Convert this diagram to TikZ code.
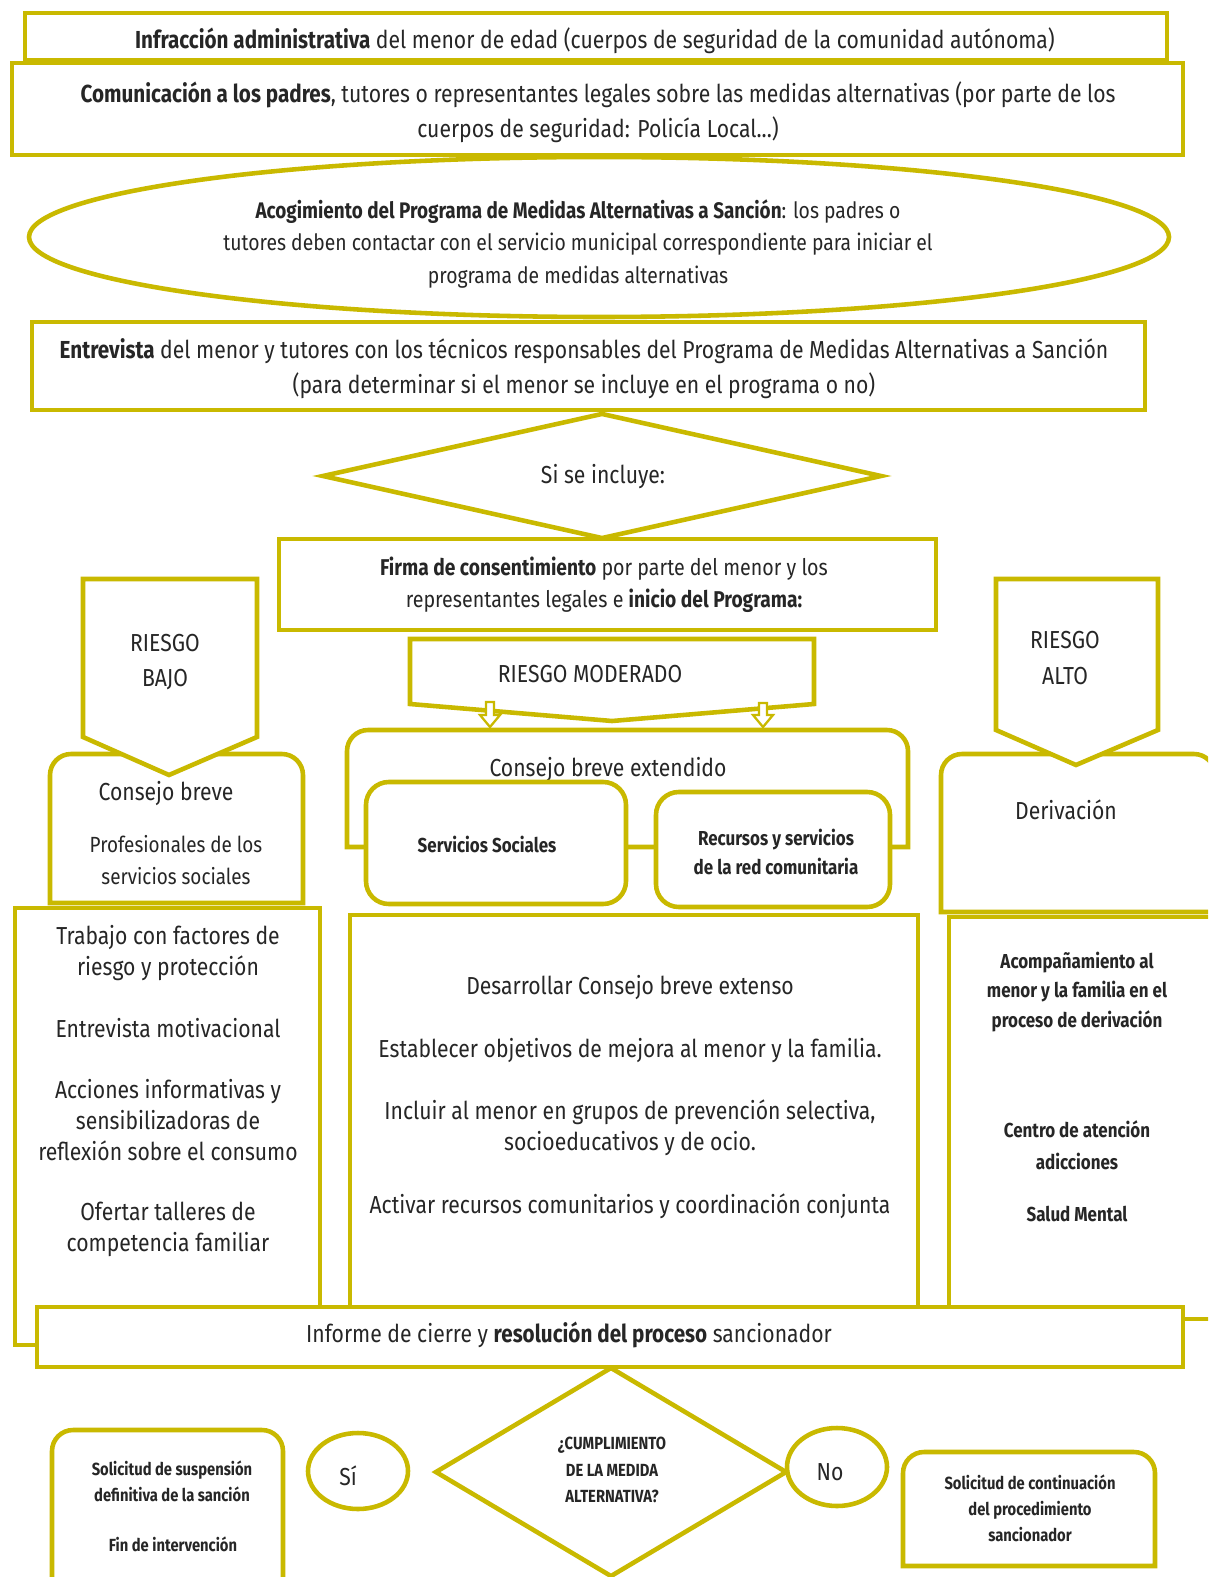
\documentclass[tikz,border=0pt]{standalone}
\usepackage{fontspec}
\setmainfont{Fira Sans}[FakeStretch=0.86, BoldFeatures={FakeStretch=0.84}]
\usetikzlibrary{shapes.geometric}
\definecolor{oliva}{RGB}{201,185,0}
\newcommand{\pu}{0.02cm}
\tikzset{
	caja/.style={draw=oliva, line width=2.6pt, fill=white, inner sep=0pt},
	flechita/.style={draw=oliva, line width=1.3pt, fill=white},
	texto/.style={align=center, inner sep=0pt, text=black!85},
	grande/.style={font=\fontsize{14}{20}\selectfont},
	columna/.style={font=\fontsize{14}{17.6}\selectfont},
	medio/.style={font=\fontsize{12.8}{18.7}\selectfont},
	titulo/.style={font=\fontsize{14}{20.4}\selectfont},
	negrita/.style={font=\bfseries\fontsize{11.5}{16.8}\selectfont},
	chica/.style={font=\bfseries\fontsize{10}{14.8}\selectfont},
}

\begin{document}
\begin{tikzpicture}[x=\pu, y=-\pu]
	\clip (0,0) rectangle (1208,1577);
	% Paths, nodes and texts:
	\node[caja, rectangle, minimum width=1142*\pu, minimum height=47*\pu] (infraccion) at (596,36.5) {};
	\node[texto, grande] (tinfraccion) at (595,41) {\textbf{Infracción administrativa} del menor de edad (cuerpos de seguridad de la comunidad autónoma)};
	\node[caja, rectangle, minimum width=1171*\pu, minimum height=92*\pu] (comunicacion) at (597.5,109) {};
	\node[texto, grande] (tcomunicacion) at (598,112) {\textbf{Comunicación a los padres}, tutores o representantes legales sobre las medidas alternativas (por parte de los\\cuerpos de seguridad: Policía Local...)};
	\node[caja, ellipse, minimum width=1140*\pu, minimum height=160*\pu] (acogimiento) at (599,237) {};
	\node[texto, medio] (tacogimiento) at (578,244) {\textbf{Acogimiento del Programa de Medidas Alternativas a Sanción}: los padres o\\tutores deben contactar con el servicio municipal correspondiente para iniciar el\\programa de medidas alternativas};
	\node[caja, rectangle, minimum width=1113*\pu, minimum height=88*\pu] (entrevista) at (588.5,366) {};
	\node[texto, grande] (tentrevista) at (584,369) {\textbf{Entrevista} del menor y tutores con los técnicos responsables del Programa de Medidas Alternativas a Sanción\\(para determinar si el menor se incluye en el programa o no)};
	\node[caja, diamond, minimum width=560*\pu, minimum height=126*\pu] (incluye) at (602,476) {};
	\node[texto, grande] (tincluye) at (603,477) {Si se incluye:};
	\node[caja, rectangle, minimum width=657*\pu, minimum height=91*\pu] (firma) at (607.5,584.5) {};
	\node[texto, medio, font=\fontsize{13}{18}\selectfont] (tfirma) at (604,585) {\textbf{Firma de consentimiento} por parte del menor y los\\representantes legales e \textbf{inicio del Programa:}};

	% riesgo bajo
	\draw[caja, rounded corners=12pt] (50,903) -- (50,754) -- (303,754) [sharp corners] -- (303,903) -- cycle;
	\draw[caja] (83,579) -- (257,579) -- (257,737) -- (169,775) -- (83,737) -- cycle;
	\node[texto, titulo] (bajo) at (165,662) {RIESGO\\BAJO};
	\node[texto, titulo] (consejo) at (166,794) {Consejo breve};
	\node[texto, medio, font=\fontsize{12.5}{18.7}\selectfont] (profesionales) at (176,860) {Profesionales de los\\servicios sociales};

	% riesgo moderado
	\draw[caja] (410,639) -- (814,639) -- (814,704) -- (612,721) -- (410,704) -- cycle;
	\node[texto, titulo] (moderado) at (590,674) {RIESGO MODERADO};
	\draw[flechita] (486,702) -- (494,702) -- (494,715) -- (500,715) -- (490,727) -- (480,715) -- (486,715) -- cycle;
	\draw[flechita] (759,703) -- (767,703) -- (767,715) -- (773,715) -- (763,727) -- (753,715) -- (759,715) -- cycle;
	\draw[caja, rounded corners=12pt] (347,847) -- (347,730) -- (908,730) [sharp corners] -- (908,847) -- cycle;
	\node[texto, titulo] (extendido) at (608,770) {Consejo breve extendido};
	\node[caja, rectangle, rounded corners=13pt, minimum width=260*\pu, minimum height=122*\pu] (sociales) at (496,843) {};
	\node[texto, negrita] (tsociales) at (487,844) {Servicios Sociales};
	\node[caja, rectangle, rounded corners=13pt, minimum width=234*\pu, minimum height=115*\pu] (recursos) at (773,849.5) {};
	\node[texto, negrita] (trecursos) at (776,852) {Recursos y servicios\\de la red comunitaria};

	% riesgo alto
	\draw[caja, rounded corners=12pt] (941,912) -- (941,754) -- (1215,754) [sharp corners] -- (1215,912) -- cycle;
	\draw[caja] (996,579) -- (1158,579) -- (1158,730) -- (1076,765) -- (996,730) -- cycle;
	\node[texto, titulo] (alto) at (1065,658) {RIESGO\\ALTO};
	\node[texto, titulo] (derivacion) at (1066,810) {Derivación};

	% columnas de actuaciones
	\node[caja, rectangle, minimum width=305*\pu, minimum height=437*\pu] (colbajo) at (167.5,1126.5) {};
	\node[texto, columna] (trabajo) at (168,953) {Trabajo con factores de\\riesgo y protección};
	\node[texto, columna] (motivacional) at (168,1028) {Entrevista motivacional};
	\node[texto, columna] (acciones) at (168,1120) {Acciones informativas y\\sensibilizadoras de\\reflexión sobre el consumo};
	\node[texto, columna] (talleres) at (168,1229) {Ofertar talleres de\\competencia familiar};
	\node[caja, rectangle, minimum width=568*\pu, minimum height=405*\pu] (colmoderado) at (634,1117.5) {};
	\node[texto, grande] (desarrollar) at (630,988) {Desarrollar Consejo breve extenso};
	\node[texto, grande] (objetivos) at (630,1051) {Establecer objetivos de mejora al menor y la familia.};
	\node[texto, grande, font=\fontsize{14}{17.6}\selectfont] (incluir) at (630,1128) {Incluir al menor en grupos de prevención selectiva,\\socioeducativos y de ocio.};
	\node[texto, grande] (activar) at (630,1206) {Activar recursos comunitarios y coordinación conjunta};
	\node[caja, rectangle, minimum width=281*\pu, minimum height=402*\pu] (colalto) at (1089.5,1118) {};
	\node[texto, negrita] (acompanamiento) at (1077,992) {Acompañamiento al\\menor y la familia en el\\proceso de derivación};
	\node[texto, negrita, font=\bfseries\fontsize{11.5}{18}\selectfont] (centro) at (1077,1145) {Centro de atención\\adicciones};
	\node[texto, negrita] (salud) at (1077,1214) {Salud Mental};

	% cierre
	\node[caja, rectangle, minimum width=1146*\pu, minimum height=60*\pu] (informe) at (610,1337) {};
	\node[texto, grande] (tinforme) at (569,1335) {Informe de cierre y \textbf{resolución del proceso} sancionador};
	\node[caja, diamond, minimum width=352*\pu, minimum height=210*\pu] (cumplimiento) at (611,1472) {};
	\node[texto, chica, font=\bfseries\fontsize{10}{15.3}\selectfont] (tcumplimiento) at (612,1470) {¿CUMPLIMIENTO\\DE LA MEDIDA\\ALTERNATIVA?};
	\node[caja, ellipse, minimum width=100*\pu, minimum height=76*\pu] (si) at (358,1471) {};
	\node[texto, titulo] (tsi) at (348,1476) {Sí};
	\node[caja, ellipse, minimum width=100*\pu, minimum height=78*\pu] (no) at (837,1467) {};
	\node[texto, titulo] (tno) at (830,1472) {No};
	\draw[caja, rounded corners=12pt] (52,1600) -- (52,1430) -- (283,1430) [sharp corners] -- (283,1600) -- cycle;
	\node[texto, chica] (suspension) at (172,1481) {Solicitud de suspensión\\definitiva de la sanción};
	\node[texto, chica] (fin) at (173,1544) {Fin de intervención};
	\draw[caja, rounded corners=12pt] (903,1566) -- (903,1452) -- (1155,1452) [sharp corners] -- (1155,1566) -- cycle;
	\node[texto, chica] (continuacion) at (1030,1508) {Solicitud de continuación\\del procedimiento\\sancionador};
\end{tikzpicture}
\end{document}
